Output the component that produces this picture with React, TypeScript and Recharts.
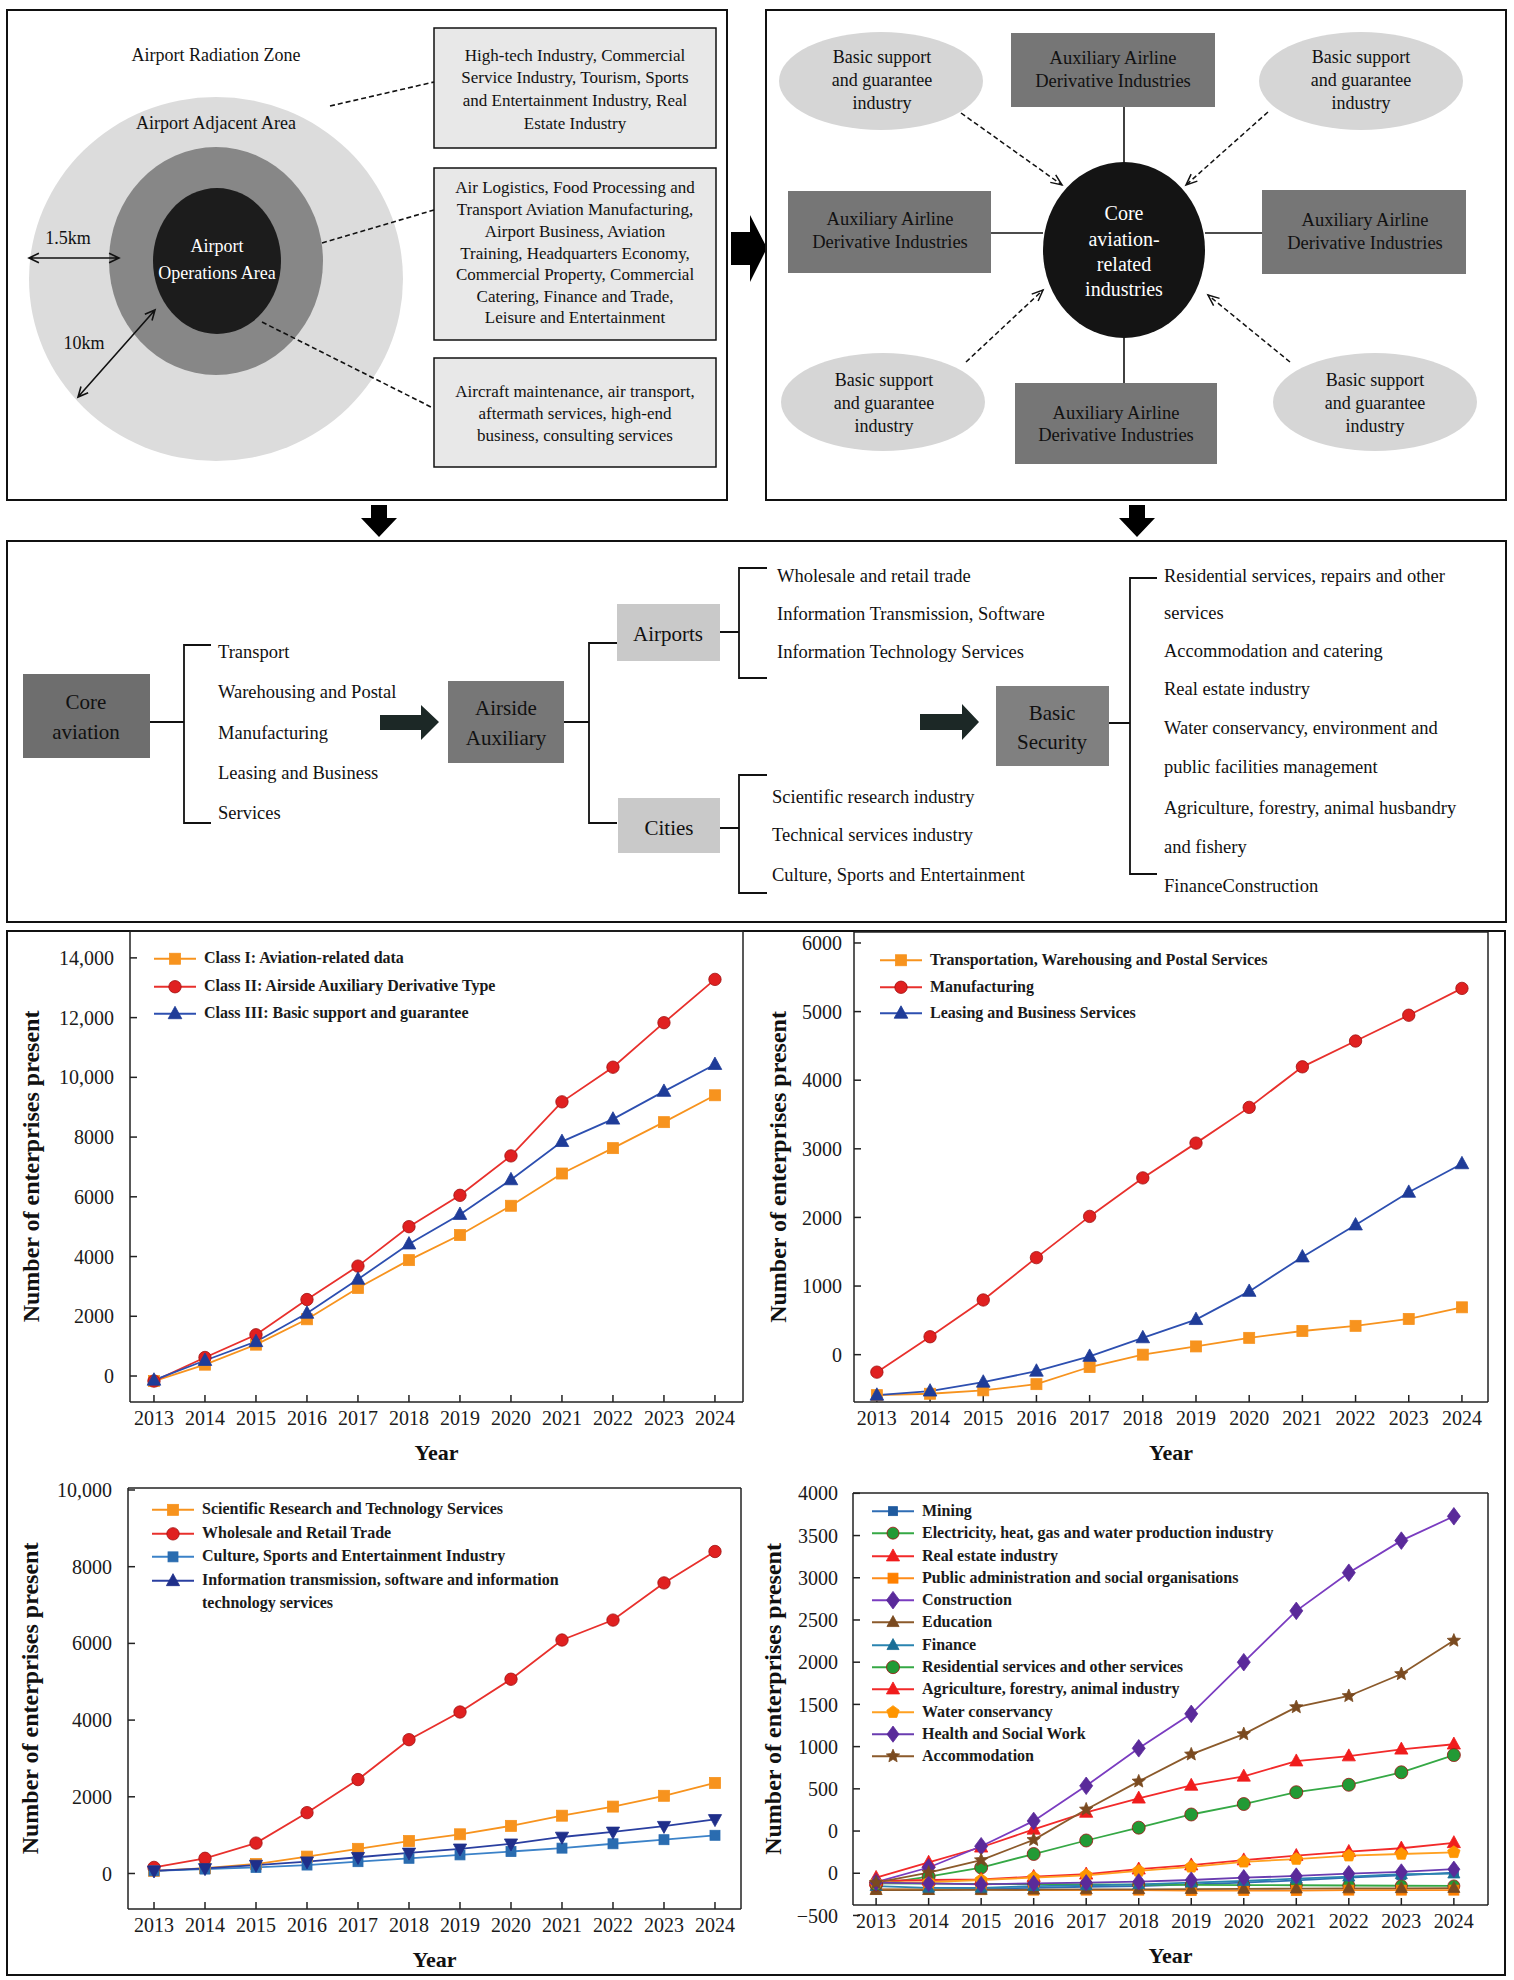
import React from 'react';
import { LineChart, Line, XAxis, YAxis, Legend, ReferenceLine } from 'recharts';

const FONT = '"Liberation Serif", "Times New Roman", serif';

const years = [2013, 2014, 2015, 2016, 2017, 2018, 2019, 2020, 2021, 2022, 2023, 2024];

// panel 1: the three classes
const classI = [-170, 380, 1050, 1900, 2950, 3880, 4720, 5700, 6780, 7630, 8500, 9400];
const classII = [-170, 620, 1380, 2560, 3680, 5000, 6050, 7370, 9180, 10340, 11830, 13280];
const classIII = [-140, 520, 1150, 2100, 3240, 4420, 5410, 6570, 7850, 8600, 9530, 10430];

// panel 2: core aviation
const transport = [-590, -570, -520, -430, -180, 0, 120, 245, 345, 420, 520, 690];
const manufacturing = [-255, 261, 797, 1414, 2015, 2576, 3083, 3604, 4195, 4571, 4947, 5338];
const leasing = [-591, -531, -401, -241, -25, 246, 511, 922, 1424, 1890, 2366, 2782];

// panel 3: airside auxiliary
const research = [70, 140, 247, 440, 643, 846, 1022, 1242, 1507, 1744, 2026, 2361];
const wholesale = [159, 396, 793, 1586, 2449, 3489, 4211, 5066, 6088, 6608, 7577, 8396];
const culture = [70, 115, 159, 220, 308, 396, 485, 573, 661, 775, 881, 996];
const infoTech = [70, 132, 220, 308, 423, 537, 643, 775, 952, 1084, 1233, 1410];

// panel 4: basic support
const mining = [-690, -690, -685, -672, -660, -652, -632, -612, -584, -552, -524, -492];
const electricity = [-620, -622, -625, -628, -632, -635, -638, -640, -642, -645, -648, -650];
const realEstate = [-552, -372, -192, 20, 220, 388, 540, 648, 828, 888, 968, 1028];
const publicAdmin = [-692, -692, -695, -700, -700, -700, -705, -705, -705, -700, -700, -700];
const construction = [-604, -432, -180, 120, 536, 980, 1388, 2000, 2608, 3060, 3440, 3728];
const education = [-700, -700, -698, -695, -692, -690, -688, -685, -682, -680, -678, -675];
const finance = [-652, -672, -672, -652, -644, -632, -612, -592, -564, -540, -512, -504];
const residential = [-632, -540, -432, -272, -112, 40, 196, 320, 460, 548, 696, 900];
const agriculture = [-592, -580, -572, -540, -512, -452, -404, -344, -292, -244, -204, -140];
const water = [-612, -604, -580, -552, -524, -472, -424, -364, -332, -292, -272, -252];
const health = [-612, -620, -632, -620, -612, -600, -580, -552, -532, -504, -484, -452];
const accommodation = [-612, -492, -344, -104, 256, 588, 908, 1148, 1468, 1600, 1860, 2256];

const ticks1 = [0, 2000, 4000, 6000, 8000, 10000, 12000, 14000];
const ticks2 = [0, 1000, 2000, 3000, 4000, 5000, 6000];
const ticks3 = [0, 2000, 4000, 6000, 8000, 10000];
const ticks4 = [-1000, -500, 0, 500, 1000, 1500, 2000, 2500, 3000, 3500, 4000];
const tickLabels4 = ['\u2212500', '0', '0', '500', '1000', '1500', '2000', '2500', '3000', '3500', '4000'];

type Shape = 'square' | 'circle' | 'triangle' | 'triangleDown' | 'diamond' | 'star' | 'pentagon';
type Series = { key: string; name: string; color: string; fill: string; shape: Shape; size: number; legendShape?: Shape; values: number[] };

const ORANGE = '#f7931e';
const RED = '#e8302c';
const NAVY = '#1f3c98';

const series1: Series[] = [
  { key: 'c1', name: 'Class I: Aviation-related data', color: ORANGE, fill: ORANGE, shape: 'square', size: 5.5, values: classI },
  { key: 'c2', name: 'Class II: Airside Auxiliary Derivative Type', color: RED, fill: '#e02020', shape: 'circle', size: 6.2, values: classII },
  { key: 'c3', name: 'Class III: Basic support and guarantee', color: '#2d4fb0', fill: NAVY, shape: 'triangle', size: 6.2, values: classIII },
];
const series2: Series[] = [
  { key: 't', name: 'Transportation, Warehousing and Postal Services', color: ORANGE, fill: ORANGE, shape: 'square', size: 5.5, values: transport },
  { key: 'm', name: 'Manufacturing', color: RED, fill: '#e02020', shape: 'circle', size: 6.2, values: manufacturing },
  { key: 'l', name: 'Leasing and Business Services', color: '#2d4fb0', fill: NAVY, shape: 'triangle', size: 6.2, values: leasing },
];
const series3: Series[] = [
  { key: 'r', name: 'Scientific Research and Technology Services', color: ORANGE, fill: ORANGE, shape: 'square', size: 5.5, values: research },
  { key: 'w', name: 'Wholesale and Retail Trade', color: RED, fill: '#e02020', shape: 'circle', size: 6.2, values: wholesale },
  { key: 'cu', name: 'Culture, Sports and Entertainment Industry', color: '#3b82c8', fill: '#2a6cb0', shape: 'square', size: 5, values: culture },
  { key: 'it', name: 'Information transmission, software and information technology services', color: '#2a3fa0', fill: '#1f2f8a', shape: 'triangleDown', legendShape: 'triangle', size: 6, values: infoTech },
];
const series4: Series[] = [
  { key: 'mi', name: 'Mining', color: '#2f6db4', fill: '#1f5a9e', shape: 'square', size: 4.5, values: mining },
  { key: 'el', name: 'Electricity, heat, gas and water production industry', color: '#35a845', fill: '#229a35', shape: 'circle', size: 6, values: electricity },
  { key: 're', name: 'Real estate industry', color: '#f22a2a', fill: '#f01c1c', shape: 'triangle', size: 6, values: realEstate },
  { key: 'pa', name: 'Public administration and social organisations', color: '#ff8c1a', fill: '#ff8000', shape: 'square', size: 5, values: publicAdmin },
  { key: 'co', name: 'Construction', color: '#7a3cc0', fill: '#5a2a9a', shape: 'diamond', size: 6.5, values: construction },
  { key: 'ed', name: 'Education', color: '#8b5a2b', fill: '#7a4a20', shape: 'triangle', size: 5.5, values: education },
  { key: 'fi', name: 'Finance', color: '#2a84b0', fill: '#1a6e96', shape: 'triangle', size: 5.5, values: finance },
  { key: 'rs', name: 'Residential services and other services', color: '#35a845', fill: '#229a35', shape: 'circle', size: 6.5, values: residential },
  { key: 'ag', name: 'Agriculture, forestry, animal industry', color: '#f22a2a', fill: '#f01c1c', shape: 'triangle', size: 6, values: agriculture },
  { key: 'wa', name: 'Water conservancy', color: '#ffa020', fill: '#ff9500', shape: 'pentagon', size: 6.5, values: water },
  { key: 'he', name: 'Health and Social Work', color: '#6a3cb0', fill: '#5a2a9a', shape: 'diamond', size: 6, values: health },
  { key: 'ac', name: 'Accommodation', color: '#8b5a2b', fill: '#7a4a20', shape: 'star', size: 7, values: accommodation },
];

function Mark({ x, y, shape, size, fill }: { x: number; y: number; shape: Shape; size: number; fill: string }) {
  const s = size;
  const sw = { fill, stroke: fill, strokeWidth: 0.8 };
  if (shape === 'square') return <rect x={x - s} y={y - s} width={2 * s} height={2 * s} {...sw} />;
  if (shape === 'circle') return <circle cx={x} cy={y} r={s} {...sw} stroke="#a01010" />;
  if (shape === 'triangle')
    return <polygon points={`${x},${y - s * 1.2} ${x + s * 1.1},${y + s * 0.8} ${x - s * 1.1},${y + s * 0.8}`} {...sw} />;
  if (shape === 'triangleDown')
    return <polygon points={`${x},${y + s * 1.2} ${x + s * 1.1},${y - s * 0.8} ${x - s * 1.1},${y - s * 0.8}`} {...sw} />;
  if (shape === 'diamond')
    return <polygon points={`${x},${y - s * 1.35} ${x + s},${y} ${x},${y + s * 1.35} ${x - s},${y}`} {...sw} />;
  const n = shape === 'star' ? 10 : 5;
  const pts: string[] = [];
  for (let i = 0; i < n; i++) {
    const a = -Math.PI / 2 + (i * 2 * Math.PI) / n;
    const r = shape === 'star' && i % 2 === 1 ? s * 0.45 : s;
    pts.push(`${x + r * Math.cos(a)},${y + r * Math.sin(a)}`);
  }
  return <polygon points={pts.join(' ')} {...sw} />;
}

function LegendBox({ items, gap, fontSize, textWidth }: { items: Series[]; gap: number; fontSize: number; textWidth: number }) {
  return (
    <div style={{ fontFamily: FONT, fontWeight: 700, fontSize, color: '#1a1a1a' }}>
      {items.map((s) => (
        <div key={s.key} style={{ display: 'flex', alignItems: 'flex-start', minHeight: gap }}>
          <svg width={46} height={gap} style={{ flex: 'none' }}>
            <line x1={2} x2={44} y1={gap / 2} y2={gap / 2} stroke={s.color} strokeWidth={2} />
            <Mark x={23} y={gap / 2} shape={s.legendShape ?? s.shape} size={s.size} fill={s.fill} />
          </svg>
          <span style={{ marginLeft: 6, width: textWidth, lineHeight: `${gap - 1}px` }}>{s.name}</span>
        </div>
      ))}
    </div>
  );
}

type ChartProps = {
  left: number; top: number; width: number; height: number;
  margin: { top: number; right: number; bottom: number; left: number };
  yWidth: number; series: Series[]; xDomain: [number, number]; yDomain: [number, number];
  yTicks: number[]; yFormat: (v: number, i: number) => string; yTickMargin: number; titleOffset: number;
  legend: { left: number; top: number; gap: number; fontSize: number; textWidth: number };
};

function TrendChart(p: ChartProps) {
  const rows = years.map((year, i) => {
    const r: Record<string, number> = { year };
    p.series.forEach((s) => (r[s.key] = s.values[i]));
    return r;
  });
  const tickStyle = { fontFamily: FONT, fontSize: 20, fill: '#1a1a1a' };
  const titleStyle = { fontFamily: FONT, fontSize: 22, fontWeight: 700, fill: '#111', textAnchor: 'middle' as const };
  return (
    <div style={{ position: 'absolute', left: p.left, top: p.top }}>
      <LineChart width={p.width} height={p.height} data={rows} margin={p.margin}>
        <XAxis
          dataKey="year" type="number" domain={p.xDomain} ticks={years} interval={0}
          stroke="#222" strokeWidth={1.5} tickSize={-7} tickMargin={16} tick={tickStyle} height={60}
          label={{ value: 'Year', position: 'insideBottom', offset: 2, style: titleStyle }}
        />
        <YAxis
          type="number" domain={p.yDomain} ticks={p.yTicks} interval={0} allowDataOverflow
          stroke="#222" strokeWidth={1.5} tickSize={-7} tickMargin={p.yTickMargin} tick={tickStyle} width={p.yWidth}
          tickFormatter={p.yFormat}
          label={{ value: 'Number of enterprises present', angle: -90, position: 'insideLeft', offset: p.titleOffset, style: { ...titleStyle, fontSize: 24 } }}
        />
        <ReferenceLine y={p.yDomain[1]} stroke="#222" strokeWidth={1.5} />
        <ReferenceLine x={p.xDomain[1]} stroke="#222" strokeWidth={1.5} />
        <Legend
          layout="vertical" align="center" verticalAlign="middle"
          wrapperStyle={{ left: p.legend.left, top: p.legend.top, width: 'auto' }}
          content={() => <LegendBox items={p.series} gap={p.legend.gap} fontSize={p.legend.fontSize} textWidth={p.legend.textWidth} />}
        />
        {p.series.map((s) => (
          <Line
            key={s.key} dataKey={s.key} name={s.name} stroke={s.color} strokeWidth={1.8} type="linear"
            isAnimationActive={false} activeDot={false}
            dot={(d: any) => <Mark key={`${s.key}-${d.index}`} x={d.cx} y={d.cy} shape={s.shape} size={s.size} fill={s.fill} />}
          />
        ))}
      </LineChart>
    </div>
  );
}

const comma = (v: number) => (v >= 10000 ? v.toLocaleString('en-US') : String(v));

function head(x1: number, y1: number, x2: number, y2: number, len = 11, spread = 0.45) {
  const a = Math.atan2(y2 - y1, x2 - x1);
  return `M${x2 - len * Math.cos(a - spread)},${y2 - len * Math.sin(a - spread)} L${x2},${y2} L${x2 - len * Math.cos(a + spread)},${y2 - len * Math.sin(a + spread)}`;
}

function Lines({ x, ys, lines, size, anchor = 'middle', fill = '#111' }: { x: number; ys: number[]; lines: string[]; size: number; anchor?: 'middle' | 'start'; fill?: string }) {
  return (
    <>
      {lines.map((t, i) => (
        <text key={i} x={x} y={ys[i]} textAnchor={anchor} dominantBaseline="central" fontSize={size} fill={fill}>{t}</text>
      ))}
    </>
  );
}

function Diagram() {
  const k = '#111';
  const basic = ['Basic support', 'and guarantee', 'industry'];
  const aux = ['Auxiliary Airline', 'Derivative Industries'];
  return (
    <svg width={1514} height={1980} style={{ position: 'absolute', left: 0, top: 0 }} fontFamily={FONT}>
      {/* zone panel */}
      <rect x={7} y={10} width={720} height={490} fill="#fff" stroke={k} strokeWidth={2} />
      <text x={216} y={55} textAnchor="middle" dominantBaseline="central" fontSize={18} fill={k}>Airport Radiation Zone</text>
      <ellipse cx={216} cy={279} rx={187} ry={182} fill="#dcdcdc" />
      <text x={216} y={123} textAnchor="middle" dominantBaseline="central" fontSize={18} fill={k}>Airport Adjacent Area</text>
      <ellipse cx={216} cy={261} rx={107} ry={114} fill="#878787" />
      <ellipse cx={217} cy={261} rx={64} ry={73} fill="#1c1c1c" />
      <Lines x={217} ys={[246, 273]} lines={['Airport', 'Operations Area']} size={18} fill="#fff" />
      <text x={68} y={238} textAnchor="middle" dominantBaseline="central" fontSize={18} fill={k}>1.5km</text>
      <path d={`M29,258 L119,258 ${head(119, 258, 29, 258)} ${head(29, 258, 119, 258)}`} fill="none" stroke={k} strokeWidth={1.6} />
      <text x={84} y={343} textAnchor="middle" dominantBaseline="central" fontSize={18} fill={k}>10km</text>
      <path d={`M78,397 L155,310 ${head(155, 310, 78, 397)} ${head(78, 397, 155, 310)}`} fill="none" stroke={k} strokeWidth={1.6} />
      <g fill="#e8e8e8" stroke={k} strokeWidth={1.5}>
        <rect x={434} y={28} width={282} height={120} />
        <rect x={434} y={168} width={282} height={172} />
        <rect x={434} y={358} width={282} height={109} />
      </g>
      <Lines x={575} ys={[55, 77, 100, 123]} size={17} lines={['High-tech Industry, Commercial', 'Service Industry, Tourism, Sports', 'and Entertainment Industry, Real', 'Estate Industry']} />
      <Lines x={575} ys={[187, 209, 231, 253, 274, 296, 317]} size={17} lines={['Air Logistics, Food Processing and', 'Transport Aviation Manufacturing,', 'Airport Business, Aviation', 'Training, Headquarters Economy,', 'Commercial Property, Commercial', 'Catering, Finance and Trade,', 'Leisure and Entertainment']} />
      <Lines x={575} ys={[391, 413, 435]} size={17} lines={['Aircraft maintenance, air transport,', 'aftermath services, high-end', 'business, consulting services']} />
      <g stroke={k} strokeWidth={1.6} strokeDasharray="5 3">
        <line x1={330} y1={106} x2={434} y2={82} />
        <line x1={322} y1={243} x2={434} y2={210} />
        <line x1={262} y1={322} x2={431} y2={407} />
      </g>
      <path d="M731,232 H750 V215 L767,248 L750,282 V265 H731 Z" fill="#000" />

      {/* industry structure panel */}
      <rect x={766} y={10} width={740} height={490} fill="#fff" stroke={k} strokeWidth={2} />
      <g fill="#d6d6d6">
        <ellipse cx={881} cy={81} rx={102} ry={49} />
        <ellipse cx={1361} cy={81} rx={102} ry={49} />
        <ellipse cx={883} cy={402} rx={102} ry={49} />
        <ellipse cx={1375} cy={402} rx={102} ry={49} />
      </g>
      <Lines x={882} ys={[57, 80, 103]} lines={basic} size={18} />
      <Lines x={1361} ys={[57, 80, 103]} lines={basic} size={18} />
      <Lines x={884} ys={[380, 403, 426]} lines={basic} size={18} />
      <Lines x={1375} ys={[380, 403, 426]} lines={basic} size={18} />
      <g fill="#767676">
        <rect x={1011} y={33} width={204} height={74} />
        <rect x={788} y={191} width={203} height={82} />
        <rect x={1262} y={190} width={204} height={84} />
        <rect x={1015} y={383} width={202} height={81} />
      </g>
      <Lines x={1113} ys={[58, 81]} lines={aux} size={18.5} />
      <Lines x={890} ys={[219, 242]} lines={aux} size={18.5} />
      <Lines x={1365} ys={[220, 243]} lines={aux} size={18.5} />
      <Lines x={1116} ys={[413, 435]} lines={aux} size={18.5} />
      <g stroke={k} strokeWidth={1.6}>
        <line x1={1124} y1={107} x2={1124} y2={162} />
        <line x1={1124} y1={338} x2={1124} y2={383} />
        <line x1={991} y1={233} x2={1043} y2={233} />
        <line x1={1205} y1={233} x2={1262} y2={233} />
      </g>
      <ellipse cx={1124} cy={250} rx={81} ry={88} fill="#141414" />
      <Lines x={1124} ys={[213, 239, 264, 289]} lines={['Core', 'aviation-', 'related', 'industries']} size={20} fill="#fff" />
      <g stroke={k} strokeWidth={1.5} fill="none">
        {[[961, 113, 1062, 185], [1268, 112, 1186, 185], [966, 362, 1043, 290], [1290, 362, 1208, 295]].map(([a, b, c, d], i) => (
          <g key={i}>
            <line x1={a} y1={b} x2={c} y2={d} strokeDasharray="5 3" />
            <path d={head(a, b, c, d, 12, 0.4)} />
          </g>
        ))}
      </g>

      {/* down arrows */}
      <path d="M371,505 H387 V518 H397 L379,537 L361,518 H371 Z" fill="#000" />
      <path d="M1129,505 H1145 V518 H1155 L1137,537 L1119,518 H1129 Z" fill="#000" />

      {/* classification panel */}
      <rect x={7} y={541} width={1499} height={381} fill="#fff" stroke={k} strokeWidth={2} />
      <rect x={23} y={674} width={127} height={84} fill="#6e6e6e" />
      <Lines x={86} ys={[702, 732]} lines={['Core', 'aviation']} size={21} />
      <g stroke={k} strokeWidth={1.8} fill="none">
        <path d="M150,722 H184 M211,645 H184 V823 H211" />
        <path d="M564,722 H589 M617,643 H589 V823 H617" />
        <path d="M720,632 H739 M767,568 H739 V678 H767" />
        <path d="M720,828 H739 M767,775 H739 V893 H767" />
        <path d="M1109,723 H1130 M1157,578 H1130 V874 H1157" />
      </g>
      <Lines x={218} ys={[652, 692, 733, 773, 813]} anchor="start" size={18.5} lines={['Transport', 'Warehousing and Postal', 'Manufacturing', 'Leasing and Business', 'Services']} />
      <path d="M380,715 H421 V705 L439,722 L421,740 V730 H380 Z" fill="#1c2826" />
      <rect x={448} y={681} width={116} height={82} fill="#777" />
      <Lines x={506} ys={[708, 738]} lines={['Airside', 'Auxiliary']} size={21} />
      <rect x={617} y={604} width={103} height={57} fill="#c9c9c9" />
      <text x={668} y={634} textAnchor="middle" dominantBaseline="central" fontSize={21} fill={k}>Airports</text>
      <rect x={618} y={798} width={102} height={55} fill="#c9c9c9" />
      <text x={669} y={828} textAnchor="middle" dominantBaseline="central" fontSize={21} fill={k}>Cities</text>
      <Lines x={777} ys={[576, 614, 652]} anchor="start" size={18.5} lines={['Wholesale and retail trade', 'Information Transmission, Software', 'Information Technology Services']} />
      <Lines x={772} ys={[797, 835, 875]} anchor="start" size={18.5} lines={['Scientific research industry', 'Technical services industry', 'Culture, Sports and Entertainment']} />
      <path d="M920,714 H962 V704 L979,722 L962,740 V730 H920 Z" fill="#1c2826" />
      <rect x={996} y={686} width={113} height={80} fill="#808080" />
      <Lines x={1052} ys={[713, 742]} lines={['Basic', 'Security']} size={21} />
      <Lines x={1164} ys={[576, 613, 651, 689, 728, 767, 808, 847, 886]} anchor="start" size={18.5}
        lines={['Residential services, repairs and other', 'services', 'Accommodation and catering', 'Real estate industry', 'Water conservancy, environment and', 'public facilities management', 'Agriculture, forestry, animal husbandry', 'and fishery', 'FinanceConstruction']} />

      {/* chart frame */}
      <rect x={7} y={931} width={1498} height={1044} fill="none" stroke={k} strokeWidth={2} />
    </svg>
  );
}

export default function App() {
  return (
    <div style={{ position: 'absolute', left: 0, top: 0, width: 1514, height: 1980, background: '#fff', fontFamily: FONT }}>
      <Diagram />
      <TrendChart
        left={0} top={920} width={760} height={545} margin={{ top: 11, right: 17, bottom: 3, left: 30 }} yWidth={100}
        series={series1} xDomain={[2012.53, 2024.55]} yDomain={[-870, 14900]} yTicks={ticks1} yFormat={comma}
        yTickMargin={23} titleOffset={0}
        legend={{ left: 152, top: 25, gap: 27.5, fontSize: 16, textWidth: 420 }}
      />
      <TrendChart
        left={740} top={920} width={770} height={545} margin={{ top: 12, right: 22, bottom: 3, left: 24 }} yWidth={90}
        series={series2} xDomain={[2012.57, 2024.49]} yDomain={[-690, 6160]} yTicks={ticks2} yFormat={(v) => String(v)}
        yTickMargin={19} titleOffset={13}
        legend={{ left: 138, top: 27, gap: 26.5, fontSize: 16, textWidth: 420 }}
      />
      <TrendChart
        left={0} top={1470} width={760} height={505} margin={{ top: 18, right: 19, bottom: 6, left: 28 }} yWidth={100}
        series={series3} xDomain={[2012.49, 2024.51]} yDomain={[-926, 10052]} yTicks={ticks3} yFormat={comma}
        yTickMargin={23} titleOffset={1}
        legend={{ left: 150, top: 28, gap: 23.7, fontSize: 16, textWidth: 380 }}
      />
      <TrendChart
        left={740} top={1470} width={770} height={505} margin={{ top: 23, right: 22, bottom: 10, left: 23 }} yWidth={90}
        series={series4} xDomain={[2012.56, 2024.65]} yDomain={[-876, 4004]} yTicks={ticks4}
        yFormat={(v) => tickLabels4[ticks4.indexOf(v)] ?? String(v)}
        yTickMargin={22} titleOffset={9}
        legend={{ left: 130, top: 30, gap: 22.3, fontSize: 16, textWidth: 420 }}
      />
    </div>
  );
}
